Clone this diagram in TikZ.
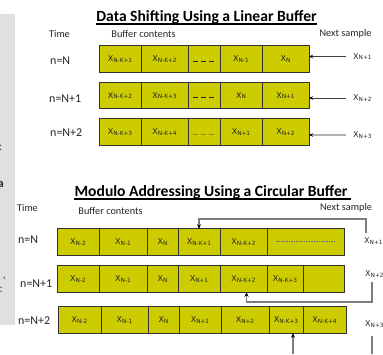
\documentclass[tikz,border=0pt]{standalone}
\usepackage{fontspec}
\setmainfont{Carlito}
\newfontfamily\cellfont{DejaVu Sans}
\usetikzlibrary{arrows.meta}
\definecolor{cellyellow}{RGB}{204,204,0}
\definecolor{celledge}{RGB}{50,50,50}
\definecolor{panelgray}{RGB}{224,224,224}
\definecolor{wiregray}{RGB}{125,125,125}
\definecolor{dimdash}{RGB}{140,140,40}
% sample name: X with a smaller index
\newcommand\xs[1]{{\cellfont\fontsize{8}{9}\selectfont X\raisebox{-0.5pt}{\fontsize{5.8}{6}\selectfont #1}}}
% one buffer cell given its left edge, right edge and centre line
\newcommand\cellbox[5]{\node[cell, minimum width={(#3-#2)*1pt}] (#1) at ({(#2+#3)/2},#4) {#5};}

\begin{document}
\begin{tikzpicture}[x=1pt,y=-1pt,
  cell/.style={draw=celledge, line width=1pt, fill=cellyellow, minimum height=26.5pt,
               inner sep=0pt, outer sep=0pt, text=black!85},
  heading/.style={font=\fontsize{15.6}{18}\selectfont\bfseries, inner sep=0pt, anchor=base},
  caption/.style={font=\fontsize{10.3}{12}\selectfont, inner sep=0pt, text=black!85},
  timelab/.style={font=\fontsize{12}{14}\selectfont, inner sep=0pt, anchor=west, text=black!85},
  samplelab/.style={inner sep=0pt, anchor=west, text=black!85},
  feed/.style={draw=black!75, line width=0.7pt, shorten <=7pt,
               -{Stealth[length=4pt,width=3.5pt,color=black]}},
  feedlight/.style={feed, draw=black!30, line width=1.2pt},
  wire/.style={draw=wiregray, line width=1.1pt},
  wirearrow/.style={wire, -{Stealth[length=4.5pt,width=4pt,color=black]}},
  gapdash/.style={draw=black!85, line width=1pt, dash pattern=on 5pt off 3pt},
  finedash/.style={draw=black!60, line width=0.5pt, dash pattern=on 1.5pt off 1pt},
  fragment/.style={inner sep=0pt, text=black!70, font=\fontsize{12}{14}\selectfont}
]
\useasboundingbox (0,0) rectangle (383,354);

% side panel with clipped text
\fill[panelgray] (0,14) rectangle (15,325);
\begin{scope}
  \clip (0,14) rectangle (15,325);
  \node[fragment, anchor=east] (f1) at (2.5,148) {:};
  \node[fragment, anchor=east, font=\fontsize{12}{14}\selectfont\bfseries, text=black!85] (f2) at (4,185) {a};
  \node[fragment, anchor=east] (f3) at (6,279) {,};
  \node[fragment, anchor=east] (f4) at (3,290) {:};
\end{scope}

% ---------------- linear buffer ----------------
\node[heading] (t1) at (206.5,21.5) {Data Shifting Using a Linear Buffer};
\draw[line width=1.3pt] ([yshift=-2.5pt]t1.base west) -- ([yshift=-2.5pt]t1.base east);

\node[caption] (time1) at (59.5,34) {Time};
\node[caption] (buf1) at (143.5,34) {Buffer contents};
\node[caption] (next1) at (345.5,34) {Next sample};

\node[timelab] (ln1t) at (50,61) {n=N};
\node[timelab] (ln2t) at (49,99) {n=N+1};
\node[timelab] (ln3t) at (50,133) {n=N+2};

\cellbox{l1a}{99}{141}{59}{\xs{N-K+1}}
\cellbox{l1b}{141}{188}{59}{\xs{N-K+2}}
\cellbox{l1c}{188}{220}{59}{}
\cellbox{l1d}{220}{262}{59}{\xs{N-1}}
\cellbox{l1e}{262}{309}{59}{\xs{N}}

\cellbox{l2a}{99}{141}{95.5}{\xs{N-K+2}}
\cellbox{l2b}{141}{188}{95.5}{\xs{N-K+3}}
\cellbox{l2c}{188}{220}{95.5}{}
\cellbox{l2d}{220}{262}{95.5}{\xs{N}}
\cellbox{l2e}{262}{309}{95.5}{\xs{N+1}}

\cellbox{l3a}{99}{141}{132}{\xs{N-K+3}}
\cellbox{l3b}{141}{188}{132}{\xs{N-K+4}}
\cellbox{l3c}{188}{220}{132}{}
\cellbox{l3d}{220}{262}{132}{\xs{N+1}}
\cellbox{l3e}{262}{309}{132}{\xs{N+2}}

\draw[gapdash] ([xshift=5pt,yshift=-2pt]l1c.west) -- ([xshift=-6pt,yshift=-2pt]l1c.east);
\draw[gapdash] ([xshift=5pt,yshift=-2pt]l2c.west) -- ([xshift=-6pt,yshift=-2pt]l2c.east);
\draw[gapdash, draw=dimdash] ([xshift=5pt,yshift=-2pt]l3c.west) -- ([xshift=-6pt,yshift=-2pt]l3c.east);

\node[samplelab] (ln1) at (353,56.5) {\xs{N+1}};
\node[samplelab] (ln2) at (353,98) {\xs{N+2}};
\node[samplelab] (ln3) at (353,135) {\xs{N+3}};

\draw[feed] (ln1.west) -- (l1e.east |- ln1.west);
\draw[feed] (ln2.west) -- (l2e.east |- ln2.west);
\draw[feedlight] (ln3.west) -- (l3e.east |- ln3.west);

% ---------------- circular buffer ----------------
\node[heading] (t2) at (211,196) {Modulo Addressing Using a Circular Buffer};
\draw[line width=1.3pt] ([yshift=-3pt]t2.base west) -- ([xshift=3pt,yshift=-3pt]t2.base east);

\node[caption] (time2) at (27.5,208) {Time};
\node[caption] (buf2) at (110.5,211) {Buffer contents};
\node[caption] (next2) at (346,208) {Next sample};

\node[timelab] (cn1t) at (18,240) {n=N};
\node[timelab] (cn2t) at (20,284) {n=N+1};
\node[timelab] (cn3t) at (18,321) {n=N+2};

\cellbox{c1a}{57}{99}{242}{\xs{N-2}}
\cellbox{c1b}{99}{147}{242}{\xs{N-1}}
\cellbox{c1c}{147}{178}{242}{\xs{N}}
\cellbox{c1d}{178}{220}{242}{\xs{N-K+1}}
\cellbox{c1e}{220}{267}{242}{\xs{N-K+2}}
\cellbox{c1f}{267}{344}{242}{}
\draw[finedash] ([xshift=9pt,yshift=1pt]c1f.west) -- ([xshift=-10pt,yshift=1pt]c1f.east);

\cellbox{c2a}{57}{99}{279}{\xs{N-2}}
\cellbox{c2b}{99}{147}{279}{\xs{N-1}}
\cellbox{c2c}{147}{178}{279}{\xs{N}}
\cellbox{c2d}{178}{220}{279}{\xs{N+1}}
\cellbox{c2e}{220}{267}{279}{\xs{N-K+2}}
\cellbox{c2f}{267}{303}{279}{\xs{N-K+3}}
\cellbox{c2g}{303}{344}{279}{}

\cellbox{c3a}{58}{101}{320}{\xs{N-2}}
\cellbox{c3b}{101}{148}{320}{\xs{N-1}}
\cellbox{c3c}{148}{179}{320}{\xs{N}}
\cellbox{c3d}{179}{221}{320}{\xs{N+1}}
\cellbox{c3e}{221}{269}{320}{\xs{N+2}}
\cellbox{c3f}{269}{303}{320}{\xs{N-K+3}}
\cellbox{c3g}{303}{346}{320}{\xs{N-K+4}}

\node[samplelab] (cn1) at (364,241) {\xs{N+1}};
\node[samplelab] (cn2) at (365,274) {\xs{N+2}};
\node[samplelab] (cn3) at (365,324) {\xs{N+3}};

% write pointers wrapping round the buffer
\coordinate (cw1) at (366,233);
\draw[wirearrow] (cw1) -- ++(0,-14) -| (c1d.north);

\coordinate (cw2) at (372,282);
\draw[wirearrow] (cw2) -- ++(0,20) -| ([xshift=3pt]c2e.south);

\coordinate (cw3a) at (372,336);
\coordinate (cw3b) at (372,354);
\draw[wire] (cw3a) -- (cw3b);
\coordinate (cw3c) at (293,354);
\draw[wirearrow] (cw3c) -- ([xshift=7pt]c3f.south);
\end{tikzpicture}
\end{document}
